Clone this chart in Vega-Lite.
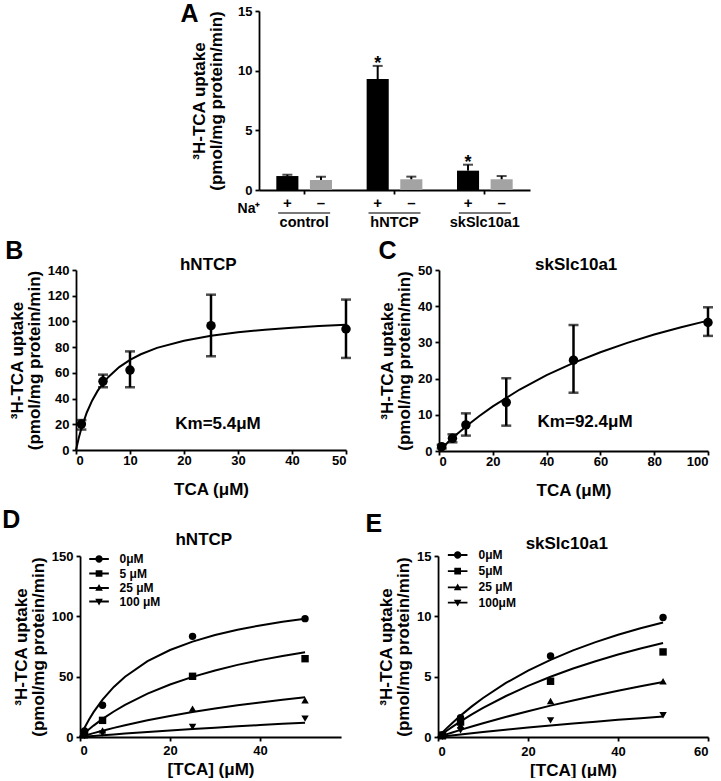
{
  "$schema": "https://vega.github.io/schema/vega-lite/v6.json",
  "padding": {"left": 2, "top": 2, "right": 0, "bottom": 0},
  "background": "white",
  "config": {
    "font": "Liberation Sans",
    "view": {"stroke": null},
    "axis": {
      "grid": false,
      "labelOverlap": false,
      "labelFont": "Liberation Sans",
      "labelFontWeight": "bold",
      "labelFontSize": 13,
      "labelColor": "black",
      "titleFont": "Liberation Sans",
      "titleFontWeight": "bold",
      "titleFontSize": 17,
      "titleColor": "black",
      "domainColor": "black",
      "domainWidth": 1.8,
      "tickColor": "black",
      "tickWidth": 1.8,
      "tickSize": 4
    },
    "axisX": {"labelPadding": 0, "labelAngle": 0},
    "axisY": {"labelPadding": 3, "titlePadding": 4, "labelOverlap": false},
    "title": {"fontSize": 25, "fontWeight": "bold", "anchor": "start", "frame": "bounds", "offset": 2, "color": "black", "font": "Liberation Sans"},
    "legend": {"labelFont": "Liberation Sans", "labelFontWeight": "bold", "labelFontSize": 12, "labelColor": "black", "padding": 0}
  },
  "datasets": {
    "uptake": [
      {"group": "control", "na": "+", "value": 1.17, "upper": 1.28, "sig": false},
      {"group": "control", "na": "–", "value": 0.84, "upper": 1.12, "sig": false},
      {"group": "hNTCP", "na": "+", "value": 9.3, "upper": 10.4, "sig": true},
      {"group": "hNTCP", "na": "–", "value": 0.9, "upper": 1.12, "sig": false},
      {"group": "skSlc10a1", "na": "+", "value": 1.62, "upper": 2.12, "sig": true},
      {"group": "skSlc10a1", "na": "–", "value": 0.9, "upper": 1.17, "sig": false}
    ],
    "kinB": [
      {"tca": 1, "uptake": 20.2, "lo": 15.9, "hi": 23.3},
      {"tca": 5, "uptake": 53.4, "lo": 48.8, "hi": 58.6},
      {"tca": 10, "uptake": 62.2, "lo": 48.8, "hi": 76.7},
      {"tca": 25, "uptake": 96.7, "lo": 72.9, "hi": 120.8},
      {"tca": 50, "uptake": 94.1, "lo": 71.6, "hi": 117}
    ],
    "fitB": [
      {"tca": 0, "uptake": 0}, {"tca": 0.5, "uptake": 9.15}, {"tca": 1, "uptake": 16.88},
      {"tca": 2, "uptake": 29.19}, {"tca": 3, "uptake": 38.57}, {"tca": 4, "uptake": 45.96},
      {"tca": 5, "uptake": 51.92}, {"tca": 6, "uptake": 56.84}, {"tca": 8, "uptake": 64.48},
      {"tca": 10, "uptake": 70.13}, {"tca": 12, "uptake": 74.48}, {"tca": 15, "uptake": 79.41},
      {"tca": 20, "uptake": 85.04}, {"tca": 25, "uptake": 88.82}, {"tca": 30, "uptake": 91.53},
      {"tca": 35, "uptake": 93.56}, {"tca": 40, "uptake": 95.15}, {"tca": 45, "uptake": 96.43},
      {"tca": 50, "uptake": 97.47}
    ],
    "kinC": [
      {"tca": 1, "uptake": 1.2, "lo": 0.7, "hi": 1.7},
      {"tca": 5, "uptake": 3.5, "lo": 2.4, "hi": 4.6},
      {"tca": 10, "uptake": 7.2, "lo": 4.25, "hi": 10.4},
      {"tca": 25, "uptake": 13.45, "lo": 7.0, "hi": 20.1},
      {"tca": 50, "uptake": 25.1, "lo": 16.1, "hi": 34.8},
      {"tca": 100, "uptake": 35.5, "lo": 31.8, "hi": 39.7}
    ],
    "fitC": [
      {"tca": 0, "uptake": 0}, {"tca": 1, "uptake": 0.74}, {"tca": 2, "uptake": 1.47},
      {"tca": 5, "uptake": 3.56}, {"tca": 10, "uptake": 6.77}, {"tca": 15, "uptake": 9.68},
      {"tca": 20, "uptake": 12.33}, {"tca": 30, "uptake": 16.99}, {"tca": 40, "uptake": 20.94},
      {"tca": 50, "uptake": 24.33}, {"tca": 60, "uptake": 27.28}, {"tca": 70, "uptake": 29.87},
      {"tca": 80, "uptake": 32.16}, {"tca": 90, "uptake": 34.19}, {"tca": 100, "uptake": 36.02}
    ],
    "inhD": [
      {"inhib": "0μM", "tca": 1, "uptake": 5},
      {"inhib": "0μM", "tca": 5, "uptake": 26.3},
      {"inhib": "0μM", "tca": 25, "uptake": 83.4},
      {"inhib": "0μM", "tca": 50, "uptake": 98.1},
      {"inhib": "5 μM", "tca": 1, "uptake": 3.5},
      {"inhib": "5 μM", "tca": 5, "uptake": 13.8},
      {"inhib": "5 μM", "tca": 25, "uptake": 50.3},
      {"inhib": "5 μM", "tca": 50, "uptake": 64.9},
      {"inhib": "25 μM", "tca": 1, "uptake": 1.5},
      {"inhib": "25 μM", "tca": 5, "uptake": 5.5},
      {"inhib": "25 μM", "tca": 25, "uptake": 23.5},
      {"inhib": "25 μM", "tca": 50, "uptake": 30.4},
      {"inhib": "100 μM", "tca": 1, "uptake": 0.7},
      {"inhib": "100 μM", "tca": 5, "uptake": 2.8},
      {"inhib": "100 μM", "tca": 25, "uptake": 8.3},
      {"inhib": "100 μM", "tca": 50, "uptake": 15.2}
    ],
    "fitD": [
      {"inhib": "0μM", "tca": 0, "uptake": 0}, {"inhib": "0μM", "tca": 1, "uptake": 7.68}, {"inhib": "0μM", "tca": 2, "uptake": 14.49}, {"inhib": "0μM", "tca": 3, "uptake": 20.59}, {"inhib": "0μM", "tca": 5, "uptake": 31.01}, {"inhib": "0μM", "tca": 7.5, "uptake": 41.52}, {"inhib": "0μM", "tca": 10, "uptake": 50.0}, {"inhib": "0μM", "tca": 15, "uptake": 62.82}, {"inhib": "0μM", "tca": 20, "uptake": 72.07}, {"inhib": "0μM", "tca": 25, "uptake": 79.04}, {"inhib": "0μM", "tca": 30, "uptake": 84.5}, {"inhib": "0μM", "tca": 35, "uptake": 88.88}, {"inhib": "0μM", "tca": 40, "uptake": 92.47}, {"inhib": "0μM", "tca": 45, "uptake": 95.48}, {"inhib": "0μM", "tca": 50, "uptake": 98.02},
      {"inhib": "5 μM", "tca": 0, "uptake": 0}, {"inhib": "5 μM", "tca": 1, "uptake": 3.33}, {"inhib": "5 μM", "tca": 2, "uptake": 6.49}, {"inhib": "5 μM", "tca": 3, "uptake": 9.47}, {"inhib": "5 μM", "tca": 5, "uptake": 14.99}, {"inhib": "5 μM", "tca": 7.5, "uptake": 21.15}, {"inhib": "5 μM", "tca": 10, "uptake": 26.62}, {"inhib": "5 μM", "tca": 15, "uptake": 35.92}, {"inhib": "5 μM", "tca": 20, "uptake": 43.51}, {"inhib": "5 μM", "tca": 25, "uptake": 49.83}, {"inhib": "5 μM", "tca": 30, "uptake": 55.18}, {"inhib": "5 μM", "tca": 35, "uptake": 59.76}, {"inhib": "5 μM", "tca": 40, "uptake": 63.72}, {"inhib": "5 μM", "tca": 45, "uptake": 67.19}, {"inhib": "5 μM", "tca": 50, "uptake": 70.25},
      {"inhib": "25 μM", "tca": 0, "uptake": 0}, {"inhib": "25 μM", "tca": 1, "uptake": 1.1}, {"inhib": "25 μM", "tca": 2, "uptake": 2.16}, {"inhib": "25 μM", "tca": 3, "uptake": 3.2}, {"inhib": "25 μM", "tca": 5, "uptake": 5.19}, {"inhib": "25 μM", "tca": 7.5, "uptake": 7.55}, {"inhib": "25 μM", "tca": 10, "uptake": 9.76}, {"inhib": "25 μM", "tca": 15, "uptake": 13.81}, {"inhib": "25 μM", "tca": 20, "uptake": 17.42}, {"inhib": "25 μM", "tca": 25, "uptake": 20.66}, {"inhib": "25 μM", "tca": 30, "uptake": 23.59}, {"inhib": "25 μM", "tca": 35, "uptake": 26.25}, {"inhib": "25 μM", "tca": 40, "uptake": 28.67}, {"inhib": "25 μM", "tca": 45, "uptake": 30.89}, {"inhib": "25 μM", "tca": 50, "uptake": 32.93},
      {"inhib": "100 μM", "tca": 0, "uptake": 0}, {"inhib": "100 μM", "tca": 1, "uptake": 0.3}, {"inhib": "100 μM", "tca": 2, "uptake": 0.59}, {"inhib": "100 μM", "tca": 3, "uptake": 0.88}, {"inhib": "100 μM", "tca": 5, "uptake": 1.45}, {"inhib": "100 μM", "tca": 7.5, "uptake": 2.15}, {"inhib": "100 μM", "tca": 10, "uptake": 2.83}, {"inhib": "100 μM", "tca": 15, "uptake": 4.14}, {"inhib": "100 μM", "tca": 20, "uptake": 5.4}, {"inhib": "100 μM", "tca": 25, "uptake": 6.6}, {"inhib": "100 μM", "tca": 30, "uptake": 7.74}, {"inhib": "100 μM", "tca": 35, "uptake": 8.85}, {"inhib": "100 μM", "tca": 40, "uptake": 9.9}, {"inhib": "100 μM", "tca": 45, "uptake": 10.91}, {"inhib": "100 μM", "tca": 50, "uptake": 11.88}
    ],
    "inhE": [
      {"inhib": "0μM", "tca": 1, "uptake": 0.2},
      {"inhib": "0μM", "tca": 5, "uptake": 1.6},
      {"inhib": "0μM", "tca": 25, "uptake": 6.72},
      {"inhib": "0μM", "tca": 50, "uptake": 9.9},
      {"inhib": "5μM", "tca": 1, "uptake": 0.15},
      {"inhib": "5μM", "tca": 5, "uptake": 1.24},
      {"inhib": "5μM", "tca": 25, "uptake": 4.62},
      {"inhib": "5μM", "tca": 50, "uptake": 7.05},
      {"inhib": "25 μM", "tca": 1, "uptake": 0.05},
      {"inhib": "25 μM", "tca": 5, "uptake": 0.97},
      {"inhib": "25 μM", "tca": 25, "uptake": 2.99},
      {"inhib": "25 μM", "tca": 50, "uptake": 4.62},
      {"inhib": "100μM", "tca": 1, "uptake": 0.02},
      {"inhib": "100μM", "tca": 5, "uptake": 0.55},
      {"inhib": "100μM", "tca": 25, "uptake": 1.38},
      {"inhib": "100μM", "tca": 50, "uptake": 1.8}
    ],
    "fitE": [
      {"inhib": "0μM", "tca": 0, "uptake": 0}, {"inhib": "0μM", "tca": 1, "uptake": 0.384}, {"inhib": "0μM", "tca": 2, "uptake": 0.753}, {"inhib": "0μM", "tca": 3, "uptake": 1.106}, {"inhib": "0μM", "tca": 5, "uptake": 1.773}, {"inhib": "0μM", "tca": 7.5, "uptake": 2.537}, {"inhib": "0μM", "tca": 10, "uptake": 3.234}, {"inhib": "0μM", "tca": 15, "uptake": 4.459}, {"inhib": "0μM", "tca": 20, "uptake": 5.501}, {"inhib": "0μM", "tca": 25, "uptake": 6.398}, {"inhib": "0μM", "tca": 30, "uptake": 7.178}, {"inhib": "0μM", "tca": 35, "uptake": 7.863}, {"inhib": "0μM", "tca": 40, "uptake": 8.47}, {"inhib": "0μM", "tca": 45, "uptake": 9.01}, {"inhib": "0μM", "tca": 50, "uptake": 9.494},
      {"inhib": "5μM", "tca": 0, "uptake": 0}, {"inhib": "5μM", "tca": 1, "uptake": 0.274}, {"inhib": "5μM", "tca": 2, "uptake": 0.54}, {"inhib": "5μM", "tca": 3, "uptake": 0.797}, {"inhib": "5μM", "tca": 5, "uptake": 1.29}, {"inhib": "5μM", "tca": 7.5, "uptake": 1.867}, {"inhib": "5μM", "tca": 10, "uptake": 2.405}, {"inhib": "5μM", "tca": 15, "uptake": 3.378}, {"inhib": "5μM", "tca": 20, "uptake": 4.234}, {"inhib": "5μM", "tca": 25, "uptake": 4.994}, {"inhib": "5μM", "tca": 30, "uptake": 5.673}, {"inhib": "5μM", "tca": 35, "uptake": 6.283}, {"inhib": "5μM", "tca": 40, "uptake": 6.834}, {"inhib": "5μM", "tca": 45, "uptake": 7.334}, {"inhib": "5μM", "tca": 50, "uptake": 7.79},
      {"inhib": "25 μM", "tca": 0, "uptake": 0}, {"inhib": "25 μM", "tca": 1, "uptake": 0.121}, {"inhib": "25 μM", "tca": 2, "uptake": 0.239}, {"inhib": "25 μM", "tca": 3, "uptake": 0.357}, {"inhib": "25 μM", "tca": 5, "uptake": 0.587}, {"inhib": "25 μM", "tca": 7.5, "uptake": 0.867}, {"inhib": "25 μM", "tca": 10, "uptake": 1.138}, {"inhib": "25 μM", "tca": 15, "uptake": 1.655}, {"inhib": "25 μM", "tca": 20, "uptake": 2.141}, {"inhib": "25 μM", "tca": 25, "uptake": 2.6}, {"inhib": "25 μM", "tca": 30, "uptake": 3.033}, {"inhib": "25 μM", "tca": 35, "uptake": 3.443}, {"inhib": "25 μM", "tca": 40, "uptake": 3.832}, {"inhib": "25 μM", "tca": 45, "uptake": 4.2}, {"inhib": "25 μM", "tca": 50, "uptake": 4.55},
      {"inhib": "100μM", "tca": 0, "uptake": 0}, {"inhib": "100μM", "tca": 1, "uptake": 0.043}, {"inhib": "100μM", "tca": 2, "uptake": 0.085}, {"inhib": "100μM", "tca": 3, "uptake": 0.127}, {"inhib": "100μM", "tca": 5, "uptake": 0.21}, {"inhib": "100μM", "tca": 7.5, "uptake": 0.311}, {"inhib": "100μM", "tca": 10, "uptake": 0.409}, {"inhib": "100μM", "tca": 15, "uptake": 0.599}, {"inhib": "100μM", "tca": 20, "uptake": 0.779}, {"inhib": "100μM", "tca": 25, "uptake": 0.951}, {"inhib": "100μM", "tca": 30, "uptake": 1.115}, {"inhib": "100μM", "tca": 35, "uptake": 1.271}, {"inhib": "100μM", "tca": 40, "uptake": 1.421}, {"inhib": "100μM", "tca": 45, "uptake": 1.564}, {"inhib": "100μM", "tca": 50, "uptake": 1.702}
    ]
  },
  "center": true,
  "spacing": 10,
  "vconcat": [
    {
      "title": {"text": "A", "dx": -10, "dy": 24},
      "width": 271,
      "height": 179,
      "data": {"name": "uptake"},
      "encoding": {
        "x": {"field": "group", "type": "nominal", "sort": ["control", "hNTCP", "skSlc10a1"],
          "scale": {"paddingInner": 0, "paddingOuter": 0},
          "axis": {"title": "Na⁺", "titleX": 1, "titleY": 22, "titleAlign": "right", "titleBaseline": "alphabetic", "titleFontSize": 14, "titleAnchor": null, "labelPadding": 21, "labelFontSize": 14.5}}
      },
      "layer": [
        {
          "mark": {"type": "bar"},
          "encoding": {
            "xOffset": {"field": "na", "type": "nominal", "sort": ["+", "–"], "scale": {"paddingInner": 0.343, "paddingOuter": 0.515}},
            "y": {"field": "value", "type": "quantitative", "scale": {"domain": [0, 15], "nice": false},
              "axis": {"values": [0, 5, 10, 15], "labelOverlap": false, "title": ["³H-TCA uptake", "(pmol/mg protein/min)"], "titleLineHeight": 17, "titlePadding": 12}},
            "color": {"field": "na", "type": "nominal", "scale": {"domain": ["+", "–"], "range": ["#000000", "#a3a3a3"]}, "legend": null}
          }
        },
        {
          "mark": {"type": "rule", "strokeWidth": 2, "color": "black"},
          "encoding": {
            "xOffset": {"field": "na", "type": "nominal", "sort": ["+", "–"]},
            "y": {"field": "value", "type": "quantitative"},
            "y2": {"field": "upper"}
          }
        },
        {
          "mark": {"type": "tick", "orient": "horizontal", "size": 10, "thickness": 2, "color": "black"},
          "encoding": {
            "xOffset": {"field": "na", "type": "nominal", "sort": ["+", "–"]},
            "y": {"field": "upper", "type": "quantitative"}
          }
        },
        {
          "transform": [{"filter": "datum.sig"}],
          "mark": {"type": "text", "text": "*", "fontSize": 18, "fontWeight": "bold", "baseline": "alphabetic", "dy": 3, "color": "black"},
          "encoding": {
            "xOffset": {"field": "na", "type": "nominal", "sort": ["+", "–"]},
            "y": {"field": "upper", "type": "quantitative"}
          }
        },
        {
          "mark": {"type": "text", "fontSize": 15, "fontWeight": "bold", "baseline": "middle", "color": "black"},
          "encoding": {
            "xOffset": {"field": "na", "type": "nominal", "sort": ["+", "–"]},
            "y": {"datum": -1.1, "type": "quantitative"},
            "text": {"field": "na"}
          }
        },
        {
          "transform": [{"filter": "datum.na === '+'"}],
          "mark": {"type": "tick", "orient": "horizontal", "size": 52, "thickness": 1.5, "color": "black"},
          "encoding": {
            "y": {"datum": -1.93, "type": "quantitative"}
          }
        }
      ]
    },
    {
      "spacing": 27,
      "hconcat": [
        {
          "title": {"text": "B", "dx": -3, "offset": -8},
          "width": 270,
          "height": 180,
          "encoding": {
            "x": {"type": "quantitative", "scale": {"domain": [0, 50], "nice": false},
              "axis": {"values": [0, 10, 20, 30, 40, 50], "labelOverlap": false, "title": "TCA (μM)", "titlePadding": 14}},
            "y": {"type": "quantitative", "scale": {"domain": [0, 140], "nice": false},
              "axis": {"values": [0, 20, 40, 60, 80, 100, 120, 140], "labelOverlap": false, "labelSeparation": -30, "title": ["³H-TCA uptake", "(pmol/mg protein/min)"], "titleLineHeight": 17}}
          },
          "layer": [
            {
              "data": {"name": "fitB"},
              "mark": {"type": "line", "color": "black", "strokeWidth": 2},
              "encoding": {"x": {"field": "tca", "type": "quantitative"}, "y": {"field": "uptake", "type": "quantitative"}}
            },
            {
              "data": {"name": "kinB"},
              "mark": {"type": "rule", "strokeWidth": 2.5, "color": "black"},
              "encoding": {"x": {"field": "tca", "type": "quantitative"}, "y": {"field": "lo", "type": "quantitative"}, "y2": {"field": "hi"}}
            },
            {
              "data": {"name": "kinB"},
              "mark": {"type": "tick", "orient": "horizontal", "size": 10, "thickness": 2.5, "color": "black"},
              "encoding": {"x": {"field": "tca", "type": "quantitative"}, "y": {"field": "lo", "type": "quantitative"}}
            },
            {
              "data": {"name": "kinB"},
              "mark": {"type": "tick", "orient": "horizontal", "size": 10, "thickness": 2.5, "color": "black"},
              "encoding": {"x": {"field": "tca", "type": "quantitative"}, "y": {"field": "hi", "type": "quantitative"}}
            },
            {
              "data": {"name": "kinB"},
              "mark": {"type": "point", "shape": "circle", "filled": true, "color": "black", "size": 90, "opacity": 1},
              "encoding": {"x": {"field": "tca", "type": "quantitative"}, "y": {"field": "uptake", "type": "quantitative"}}
            },
            {
              "data": {"values": [{}]},
              "mark": {"type": "text", "text": "Km=5.4μM", "fontSize": 17, "fontWeight": "bold", "baseline": "middle", "align": "center", "color": "black"},
              "encoding": {"x": {"datum": 26.3, "type": "quantitative"}, "y": {"datum": 20.2, "type": "quantitative"}}
            },
            {
              "data": {"values": [{}]},
              "mark": {"type": "text", "text": "hNTCP", "fontSize": 17, "fontWeight": "bold", "baseline": "alphabetic", "align": "center", "color": "black", "dy": 0},
              "encoding": {"x": {"datum": 24.5, "type": "quantitative"}, "y": {"datum": 140, "type": "quantitative"}}
            }
          ]
        },
        {
          "title": {"text": "C", "dx": 0, "offset": -8},
          "width": 269,
          "height": 181,
          "encoding": {
            "x": {"type": "quantitative", "scale": {"domain": [0, 100], "nice": false},
              "axis": {"values": [0, 20, 40, 60, 80, 100], "labelOverlap": false, "title": "TCA (μM)", "titlePadding": 14}},
            "y": {"type": "quantitative", "scale": {"domain": [0, 50], "nice": false},
              "axis": {"values": [0, 10, 20, 30, 40, 50], "labelOverlap": false, "labelSeparation": -30, "title": ["³H-TCA uptake", "(pmol/mg protein/min)"], "titleLineHeight": 17}}
          },
          "layer": [
            {
              "data": {"name": "fitC"},
              "mark": {"type": "line", "color": "black", "strokeWidth": 2},
              "encoding": {"x": {"field": "tca", "type": "quantitative"}, "y": {"field": "uptake", "type": "quantitative"}}
            },
            {
              "data": {"name": "kinC"},
              "mark": {"type": "rule", "strokeWidth": 2.5, "color": "black"},
              "encoding": {"x": {"field": "tca", "type": "quantitative"}, "y": {"field": "lo", "type": "quantitative"}, "y2": {"field": "hi"}}
            },
            {
              "data": {"name": "kinC"},
              "mark": {"type": "tick", "orient": "horizontal", "size": 10, "thickness": 2.5, "color": "black"},
              "encoding": {"x": {"field": "tca", "type": "quantitative"}, "y": {"field": "lo", "type": "quantitative"}}
            },
            {
              "data": {"name": "kinC"},
              "mark": {"type": "tick", "orient": "horizontal", "size": 10, "thickness": 2.5, "color": "black"},
              "encoding": {"x": {"field": "tca", "type": "quantitative"}, "y": {"field": "hi", "type": "quantitative"}}
            },
            {
              "data": {"name": "kinC"},
              "mark": {"type": "point", "shape": "circle", "filled": true, "color": "black", "size": 90, "opacity": 1},
              "encoding": {"x": {"field": "tca", "type": "quantitative"}, "y": {"field": "uptake", "type": "quantitative"}}
            },
            {
              "data": {"values": [{}]},
              "mark": {"type": "text", "text": "Km=92.4μM", "fontSize": 17, "fontWeight": "bold", "baseline": "middle", "align": "center", "color": "black"},
              "encoding": {"x": {"datum": 54.3, "type": "quantitative"}, "y": {"datum": 8.1, "type": "quantitative"}}
            },
            {
              "data": {"values": [{}]},
              "mark": {"type": "text", "text": "skSlc10a1", "fontSize": 17, "fontWeight": "bold", "baseline": "alphabetic", "align": "center", "color": "black", "dy": 0},
              "encoding": {"x": {"datum": 51, "type": "quantitative"}, "y": {"datum": 50, "type": "quantitative"}}
            }
          ]
        }
      ]
    },
    {
      "spacing": 24,
      "resolve": {"scale": {"shape": "independent"}, "legend": {"shape": "independent"}},
      "hconcat": [
        {
          "title": {"text": "D", "dx": -10, "offset": -2},
          "width": 261,
          "height": 181,
          "resolve": {"scale": {"shape": "independent"}, "legend": {"shape": "independent"}},
          "layer": [
            {
              "data": {"name": "fitD"},
              "mark": {"type": "line", "color": "black", "strokeWidth": 2},
              "encoding": {
                "x": {"field": "tca", "type": "quantitative", "scale": {"domain": [0, 58], "nice": false},
                  "axis": {"values": [0, 20, 40], "labelOverlap": false, "title": "[TCA] (μM)", "titlePadding": 4, "labelPadding": 3}},
                "y": {"field": "uptake", "type": "quantitative", "scale": {"domain": [0, 150], "nice": false},
                  "axis": {"values": [0, 50, 100, 150], "labelOverlap": false, "title": ["³H-TCA uptake", "(pmol/mg protein/min)"], "titleLineHeight": 17}},
                "detail": {"field": "inhib", "type": "nominal"}
              }
            },
            {
              "data": {"name": "inhD"},
              "mark": {"type": "point", "filled": true, "color": "black", "size": 55, "opacity": 1},
              "encoding": {
                "x": {"field": "tca", "type": "quantitative"},
                "y": {"field": "uptake", "type": "quantitative"},
                "shape": {"field": "inhib", "type": "nominal",
                  "scale": {"domain": ["0μM", "5 μM", "25 μM", "100 μM"], "range": ["circle", "square", "triangle-up", "triangle-down"]},
                  "legend": null}
              }
            },
            {
              "data": {"name": "inhD"},
              "transform": [{"filter": "false"}],
              "mark": {"type": "point", "filled": true, "color": "black", "opacity": 1},
              "encoding": {
                "x": {"field": "tca", "type": "quantitative"},
                "y": {"field": "uptake", "type": "quantitative"},
                "shape": {"field": "inhib", "type": "nominal",
                  "scale": {"domain": ["0μM", "5 μM", "25 μM", "100 μM"],
                    "range": ["M-1.6,-0.15H1.6V0.15H-1.6Z M-0.6,0A0.6,0.6 0 1,1 0.6,0A0.6,0.6 0 1,1 -0.6,0Z", "M-1.6,-0.15H1.6V0.15H-1.6Z M-0.55,-0.55H0.55V0.55H-0.55Z", "M-1.6,-0.15H1.6V0.15H-1.6Z M0,-0.65L0.62,0.45H-0.62Z", "M-1.6,-0.15H1.6V0.15H-1.6Z M0,0.65L-0.62,-0.45H0.62Z"]},
                  "legend": {"title": null, "orient": "none", "legendX": 12, "legendY": -4, "symbolSize": 150, "labelOffset": 13.5, "rowPadding": 0.5}}
              }
            },
            {
              "data": {"values": [{}]},
              "mark": {"type": "text", "text": "hNTCP", "fontSize": 17, "fontWeight": "bold", "baseline": "alphabetic", "align": "center", "color": "black", "dy": -11},
              "encoding": {"x": {"datum": 27.5, "type": "quantitative"}, "y": {"datum": 150, "type": "quantitative"}}
            }
          ]
        },
        {
          "title": {"text": "E", "dx": -12, "offset": -2},
          "width": 270,
          "height": 181,
          "resolve": {"scale": {"shape": "independent"}, "legend": {"shape": "independent"}},
          "layer": [
            {
              "data": {"name": "fitE"},
              "mark": {"type": "line", "color": "black", "strokeWidth": 2},
              "encoding": {
                "x": {"field": "tca", "type": "quantitative", "scale": {"domain": [0, 60], "nice": false},
                  "axis": {"values": [0, 20, 40, 60], "labelOverlap": false, "title": "[TCA] (μM)", "titlePadding": 4, "labelPadding": 4}},
                "y": {"field": "uptake", "type": "quantitative", "scale": {"domain": [0, 15], "nice": false},
                  "axis": {"values": [0, 5, 10, 15], "labelOverlap": false, "title": ["³H-TCA uptake", "(pmol/mg protein/min)"], "titleLineHeight": 17}},
                "detail": {"field": "inhib", "type": "nominal"}
              }
            },
            {
              "data": {"name": "inhE"},
              "mark": {"type": "point", "filled": true, "color": "black", "size": 55, "opacity": 1},
              "encoding": {
                "x": {"field": "tca", "type": "quantitative"},
                "y": {"field": "uptake", "type": "quantitative"},
                "shape": {"field": "inhib", "type": "nominal",
                  "scale": {"domain": ["0μM", "5μM", "25 μM", "100μM"], "range": ["circle", "square", "triangle-up", "triangle-down"]},
                  "legend": null}
              }
            },
            {
              "data": {"name": "inhE"},
              "transform": [{"filter": "false"}],
              "mark": {"type": "point", "filled": true, "color": "black", "opacity": 1},
              "encoding": {
                "x": {"field": "tca", "type": "quantitative"},
                "y": {"field": "uptake", "type": "quantitative"},
                "shape": {"field": "inhib", "type": "nominal",
                  "scale": {"domain": ["0μM", "5μM", "25 μM", "100μM"],
                    "range": ["M-1.6,-0.15H1.6V0.15H-1.6Z M-0.6,0A0.6,0.6 0 1,1 0.6,0A0.6,0.6 0 1,1 -0.6,0Z", "M-1.6,-0.15H1.6V0.15H-1.6Z M-0.55,-0.55H0.55V0.55H-0.55Z", "M-1.6,-0.15H1.6V0.15H-1.6Z M0,-0.65L0.62,0.45H-0.62Z", "M-1.6,-0.15H1.6V0.15H-1.6Z M0,0.65L-0.62,-0.45H0.62Z"]},
                  "legend": {"title": null, "orient": "none", "legendX": 12.6, "legendY": -8, "symbolSize": 150, "labelOffset": 13.9, "rowPadding": 2.2}}
              }
            },
            {
              "data": {"values": [{}]},
              "mark": {"type": "text", "text": "skSlc10a1", "fontSize": 17, "fontWeight": "bold", "baseline": "alphabetic", "align": "center", "color": "black", "dy": -7},
              "encoding": {"x": {"datum": 28.6, "type": "quantitative"}, "y": {"datum": 15, "type": "quantitative"}}
            }
          ]
        }
      ]
    }
  ]
}
